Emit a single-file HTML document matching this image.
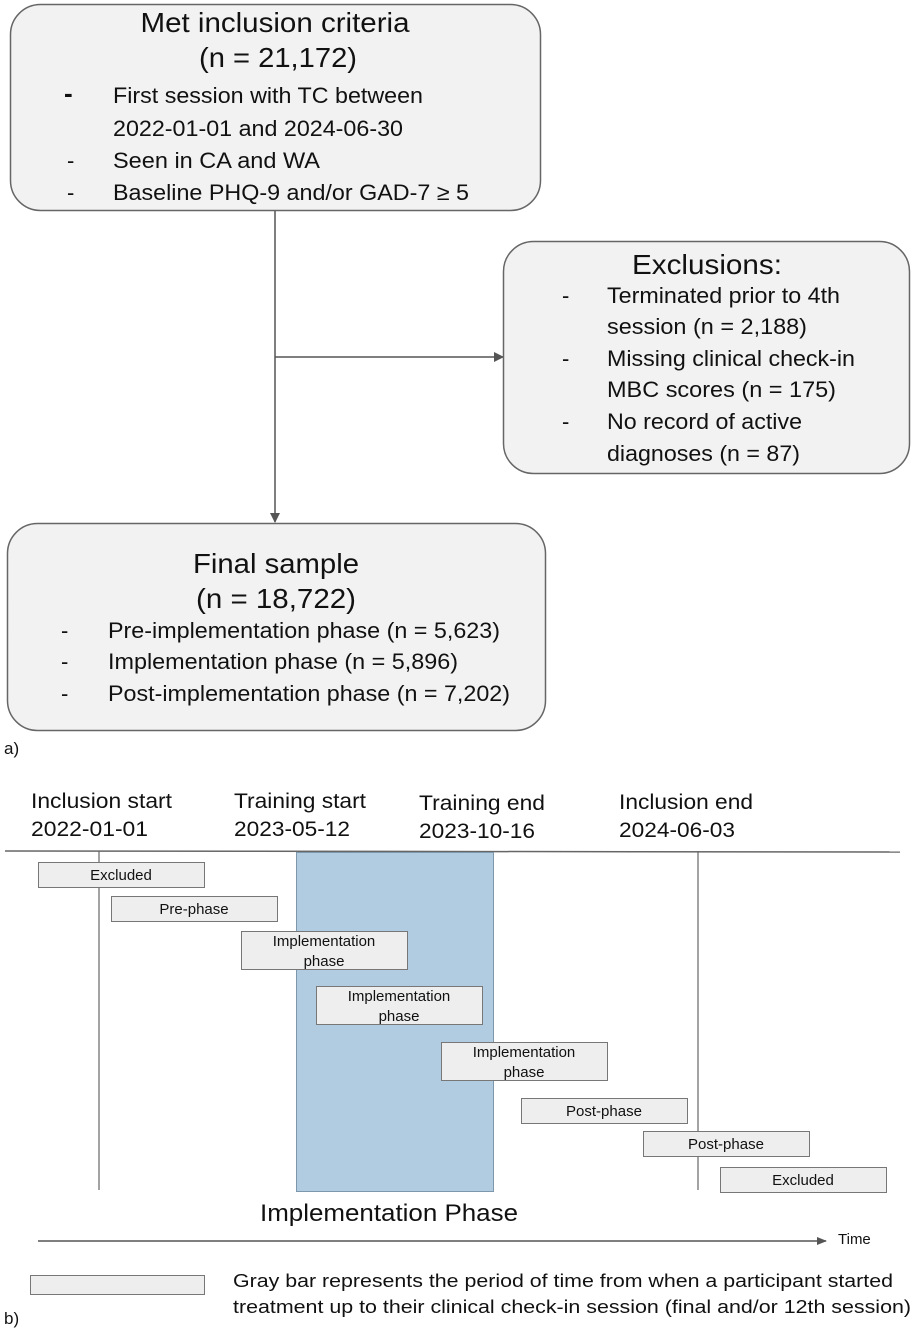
<!DOCTYPE html>
<html><head><meta charset="utf-8"><style>
html,body{margin:0;padding:0;background:#fff;}
svg{display:block;font-family:"Liberation Sans",sans-serif;}
</style></head><body>
<svg width="915" height="1330" viewBox="0 0 915 1330" xmlns="http://www.w3.org/2000/svg">
<defs>
<marker id="ah" markerWidth="10" markerHeight="10" refX="9" refY="5" orient="auto" markerUnits="userSpaceOnUse">
<path d="M0,0 L10,5 L0,10 z" fill="#555"/></marker>
<marker id="ah2" markerWidth="10" markerHeight="8" refX="9" refY="4" orient="auto" markerUnits="userSpaceOnUse">
<path d="M0,0 L10,4 L0,8 z" fill="#555"/></marker>
</defs>
<g fill="#111">
<!-- Box 1 -->
<rect x="10.5" y="4.5" width="530" height="206" rx="30" fill="#f2f2f2" stroke="#666" stroke-width="1.5"/>
<text x="275" y="32" font-size="28" text-anchor="middle" textLength="269" lengthAdjust="spacingAndGlyphs">Met inclusion criteria</text>
<text x="278" y="67" font-size="28" text-anchor="middle" textLength="158" lengthAdjust="spacingAndGlyphs">(n = 21,172)</text>
<g font-size="22">
<text x="64" y="102" font-size="26" font-weight="bold">-</text>
<text x="113" y="103" textLength="310" lengthAdjust="spacingAndGlyphs">First session with TC between</text>
<text x="113" y="136" textLength="290" lengthAdjust="spacingAndGlyphs">2022-01-01 and 2024-06-30</text>
<text x="67" y="168">-</text>
<text x="113" y="168" textLength="207" lengthAdjust="spacingAndGlyphs">Seen in CA and WA</text>
<text x="67" y="200">-</text>
<text x="113" y="200" textLength="356" lengthAdjust="spacingAndGlyphs">Baseline PHQ-9 and/or GAD-7 ≥ 5</text>
</g>
<!-- connectors -->
<line x1="275" y1="211" x2="275" y2="522" stroke="#555" stroke-width="1.5" marker-end="url(#ah)"/>
<line x1="275" y1="357" x2="503" y2="357" stroke="#555" stroke-width="1.5" marker-end="url(#ah)"/>
<!-- Box 2 -->
<rect x="503.5" y="241.5" width="406" height="232" rx="30" fill="#f2f2f2" stroke="#666" stroke-width="1.5"/>
<text x="707" y="274" font-size="28" text-anchor="middle" textLength="150" lengthAdjust="spacingAndGlyphs">Exclusions:</text>
<g font-size="22">
<text x="562" y="303">-</text>
<text x="607" y="303" textLength="233" lengthAdjust="spacingAndGlyphs">Terminated prior to 4th</text>
<text x="607" y="334" textLength="200" lengthAdjust="spacingAndGlyphs">session (n = 2,188)</text>
<text x="562" y="366">-</text>
<text x="607" y="366" textLength="248" lengthAdjust="spacingAndGlyphs">Missing clinical check-in</text>
<text x="607" y="397" textLength="229" lengthAdjust="spacingAndGlyphs">MBC scores (n = 175)</text>
<text x="562" y="429">-</text>
<text x="607" y="429" textLength="195" lengthAdjust="spacingAndGlyphs">No record of active</text>
<text x="607" y="461" textLength="193" lengthAdjust="spacingAndGlyphs">diagnoses (n = 87)</text>
</g>
<!-- Box 3 -->
<rect x="7.5" y="523.5" width="538" height="207" rx="30" fill="#f2f2f2" stroke="#666" stroke-width="1.5"/>
<text x="276" y="573" font-size="28" text-anchor="middle" textLength="166" lengthAdjust="spacingAndGlyphs">Final sample</text>
<text x="276" y="608" font-size="28" text-anchor="middle" textLength="160" lengthAdjust="spacingAndGlyphs">(n = 18,722)</text>
<g font-size="22">
<text x="61" y="638">-</text>
<text x="108" y="638" textLength="392" lengthAdjust="spacingAndGlyphs">Pre-implementation phase (n = 5,623)</text>
<text x="61" y="669">-</text>
<text x="108" y="669" textLength="350" lengthAdjust="spacingAndGlyphs">Implementation phase (n = 5,896)</text>
<text x="61" y="701">-</text>
<text x="108" y="701" textLength="402" lengthAdjust="spacingAndGlyphs">Post-implementation phase (n = 7,202)</text>
</g>
<text x="4" y="754" font-size="17">a)</text>

<!-- Timeline -->
<g font-size="21">
<text x="31" y="808" textLength="141" lengthAdjust="spacingAndGlyphs">Inclusion start</text>
<text x="31" y="836" textLength="117" lengthAdjust="spacingAndGlyphs">2022-01-01</text>
<text x="234" y="808" textLength="132" lengthAdjust="spacingAndGlyphs">Training start</text>
<text x="234" y="836" textLength="116" lengthAdjust="spacingAndGlyphs">2023-05-12</text>
<text x="419" y="810" textLength="126" lengthAdjust="spacingAndGlyphs">Training end</text>
<text x="419" y="838" textLength="116" lengthAdjust="spacingAndGlyphs">2023-10-16</text>
<text x="619" y="809" textLength="134" lengthAdjust="spacingAndGlyphs">Inclusion end</text>
<text x="619" y="837" textLength="116" lengthAdjust="spacingAndGlyphs">2024-06-03</text>
</g>
<line x1="5" y1="851" x2="900" y2="852" stroke="#666" stroke-width="1.5"/>
<line x1="99" y1="851" x2="99" y2="1190" stroke="#666" stroke-width="1.2"/>
<line x1="698" y1="851" x2="698" y2="1190" stroke="#666" stroke-width="1.2"/>
<rect x="296.5" y="852.5" width="197" height="339" fill="#b1cce0" stroke="#7f97aa" stroke-width="1"/>
<g font-size="15" text-anchor="middle">
<rect x="38.5" y="862.5" width="166" height="25" fill="#eeeeee" stroke="#777"/>
<text x="121" y="880">Excluded</text>
<rect x="111.5" y="896.5" width="166" height="25" fill="#eeeeee" stroke="#777"/>
<text x="194" y="914">Pre-phase</text>
<rect x="241.5" y="931.5" width="166" height="38" fill="#eeeeee" stroke="#777"/>
<text x="324" y="946">Implementation</text><text x="324" y="966">phase</text>
<rect x="316.5" y="986.5" width="166" height="38" fill="#eeeeee" stroke="#777"/>
<text x="399" y="1001">Implementation</text><text x="399" y="1021">phase</text>
<rect x="441.5" y="1042.5" width="166" height="38" fill="#eeeeee" stroke="#777"/>
<text x="524" y="1057">Implementation</text><text x="524" y="1077">phase</text>
<rect x="521.5" y="1098.5" width="166" height="25" fill="#eeeeee" stroke="#777"/>
<text x="604" y="1116">Post-phase</text>
<rect x="643.5" y="1131.5" width="166" height="25" fill="#eeeeee" stroke="#777"/>
<text x="726" y="1149">Post-phase</text>
<rect x="720.5" y="1167.5" width="166" height="25" fill="#eeeeee" stroke="#777"/>
<text x="803" y="1185">Excluded</text>
</g>
<text x="389" y="1221" font-size="24" text-anchor="middle" textLength="258" lengthAdjust="spacingAndGlyphs">Implementation Phase</text>
<line x1="38" y1="1241" x2="826" y2="1241" stroke="#555" stroke-width="1.5" marker-end="url(#ah2)"/>
<text x="838" y="1244" font-size="15">Time</text>
<rect x="30.5" y="1275.5" width="174" height="19" fill="#eeeeee" stroke="#777"/>
<text x="233" y="1287" font-size="18.5" textLength="660" lengthAdjust="spacingAndGlyphs">Gray bar represents the period of time from when a participant started</text>
<text x="233" y="1313" font-size="18.5" textLength="678" lengthAdjust="spacingAndGlyphs">treatment up to their clinical check-in session (final and/or 12th session)</text>
<text x="4" y="1324" font-size="17">b)</text>
</g>
</svg>
</body></html>
